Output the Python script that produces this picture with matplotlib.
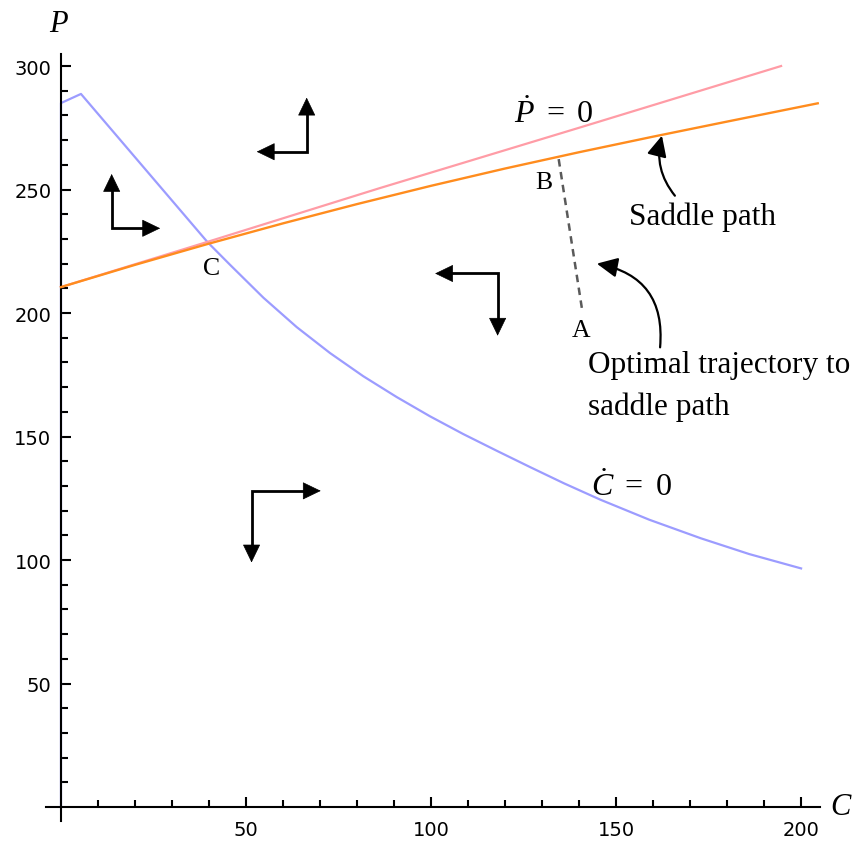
import matplotlib
matplotlib.use("Agg")
import matplotlib.pyplot as plt
from matplotlib.patches import FancyArrowPatch
from matplotlib.ticker import FixedLocator

plt.rcParams['mathtext.fontset'] = 'custom'
plt.rcParams['mathtext.rm'] = 'Liberation Serif'
plt.rcParams['mathtext.it'] = 'Liberation Serif:italic'

# C-dot = 0 locus (blue), runs up the P axis first
cdot_c = [0, 0, 5.4, 39.6, 45.7, 54.7, 63.7, 72.7, 81.7, 90.7, 99.7, 108.7,
          117.8, 126.8, 136, 145.8, 159, 172.9, 186, 200]
cdot_p = [0, 285, 288.7, 228.7, 219.5, 206.2, 194.3, 183.8, 174.4, 166.0, 158.2,
          151.0, 144.2, 137.6, 131.0, 124.4, 116.3, 108.8, 102.4, 96.6]

# P-dot = 0 locus (red)
pdot_c = [0, 40, 86, 140, 194.6]
pdot_p = [210.5, 229, 250.5, 275, 300]

# saddle path (orange)
saddle_c = [0, 20, 40, 60, 80, 100, 120, 140, 160, 180, 204.5]
saddle_p = [210.5, 219.5, 228.1, 236.3, 244.1, 251.5, 258.5, 265.1, 271.4, 277.5, 284.9]

# trajectory A -> B
traj_c = [134.5, 140.8]
traj_p = [262.3, 201.6]

# phase arrows: corner, horizontal tip, vertical tip
phase_corner = [(13.7, 234.3), (66.4, 265.3), (118.0, 216.0), (51.5, 128.0)]
phase_htip = [26.8, 52.9, 101.1, 70.2]
phase_vtip = [256.3, 287.2, 190.8, 99.0]

x_major = [50, 100, 150, 200]
y_major = [50, 100, 150, 200, 250, 300]

fig = plt.figure(figsize=(8.6, 8.45), dpi=100)
ax = fig.add_axes([0.0537, 0.0277, 0.8993, 0.9076])

ax.plot(cdot_c, cdot_p, color='#9c9cff', lw=1.6, zorder=2)
ax.plot(pdot_c, pdot_p, color='#ff9ca6', lw=1.6, zorder=2)
ax.plot(saddle_c, saddle_p, color='#ff8c1e', lw=1.7, zorder=3)
ax.plot(traj_c, traj_p, color='#5a5a5a', lw=1.8, dashes=(3.0, 2.2), zorder=3)

# head length is about 4.3 data units along C and 6.5 along P
head = '-|>,head_length=1.2,head_width=0.58'
hl_c, hl_p = 4.3, 6.5
for (cx, cy), hx, vy in zip(phase_corner, phase_htip, phase_vtip):
    sx = 1 if hx > cx else -1
    sy = 1 if vy > cy else -1
    ax.plot([hx - sx * hl_c, cx, cx], [cy, cy, vy - sy * hl_p],
            color='black', lw=2.0, solid_joinstyle='miter',
            solid_capstyle='butt', zorder=4)
    ax.add_patch(FancyArrowPatch((hx - sx * hl_c * 1.02, cy), (hx, cy),
                                 arrowstyle=head, mutation_scale=10,
                                 color='black', lw=0.5, shrinkA=0, shrinkB=0,
                                 zorder=5))
    ax.add_patch(FancyArrowPatch((cx, vy - sy * hl_p * 1.02), (cx, vy),
                                 arrowstyle=head, mutation_scale=10,
                                 color='black', lw=0.5, shrinkA=0, shrinkB=0,
                                 zorder=5))

# curved callout arrows
ax.add_patch(FancyArrowPatch((165.9, 247.5), (162.4, 271.8),
                             connectionstyle='arc3,rad=-0.25',
                             arrowstyle='-|>,head_length=1.25,head_width=0.6',
                             mutation_scale=10, color='black', lw=1.6,
                             shrinkA=0, shrinkB=0, zorder=4))
ax.add_patch(FancyArrowPatch((161.9, 186.1), (144.8, 220.0),
                             connectionstyle='arc3,rad=0.45',
                             arrowstyle='-|>,head_length=1.25,head_width=0.6',
                             mutation_scale=10, color='black', lw=1.6,
                             shrinkA=0, shrinkB=0, zorder=4))

serif = 'Liberation Serif'
ax.text(133, 277.3, r'$\dot{P}\ =\ 0$', fontsize=23, ha='center', va='baseline')
ax.text(154.2, 126.3, r'$\dot{C}\ =\ 0$', fontsize=23, ha='center', va='baseline')
ax.text(130.5, 253.2, 'B', family=serif, fontsize=18.5, ha='center', va='center')
ax.text(40.8, 218.2, 'C', family=serif, fontsize=18.5, ha='center', va='center')
ax.text(140.5, 193.3, 'A', family=serif, fontsize=18.5, ha='center', va='center')
ax.text(173.4, 236, 'Saddle path', family=serif, fontsize=22.5,
        ha='center', va='baseline')
ax.text(142.4, 176, 'Optimal trajectory to', family=serif, fontsize=22.5,
        ha='left', va='baseline', clip_on=False)
ax.text(142.4, 159, 'saddle path', family=serif, fontsize=22.5,
        ha='left', va='baseline', clip_on=False)
ax.text(-0.7, 314, 'P', family=serif, style='italic', fontsize=22,
        ha='center', va='baseline', clip_on=False)
ax.text(210.7, -2.8, 'C', family=serif, style='italic', fontsize=22,
        ha='center', va='baseline', clip_on=False)

ax.set_xlim(-4, 205)
ax.set_ylim(-5.5, 305)
for side in ['top', 'right']:
    ax.spines[side].set_visible(False)
for side in ['left', 'bottom']:
    ax.spines[side].set_position(('data', 0))
    ax.spines[side].set_linewidth(1.5)

ax.xaxis.set_major_locator(FixedLocator(x_major))
ax.yaxis.set_major_locator(FixedLocator(y_major))
ax.xaxis.set_minor_locator(FixedLocator([v for v in range(10, 205, 10) if v % 50]))
ax.yaxis.set_minor_locator(FixedLocator([v for v in range(10, 305, 10) if v % 50]))
ax.tick_params(which='both', direction='in', width=1.5, labelsize=14)
ax.tick_params(which='major', length=7.5)
ax.tick_params(which='minor', length=5)
ax.tick_params(axis='x', pad=9)
ax.tick_params(axis='y', pad=7)

fig.savefig('out.png', dpi=100)
